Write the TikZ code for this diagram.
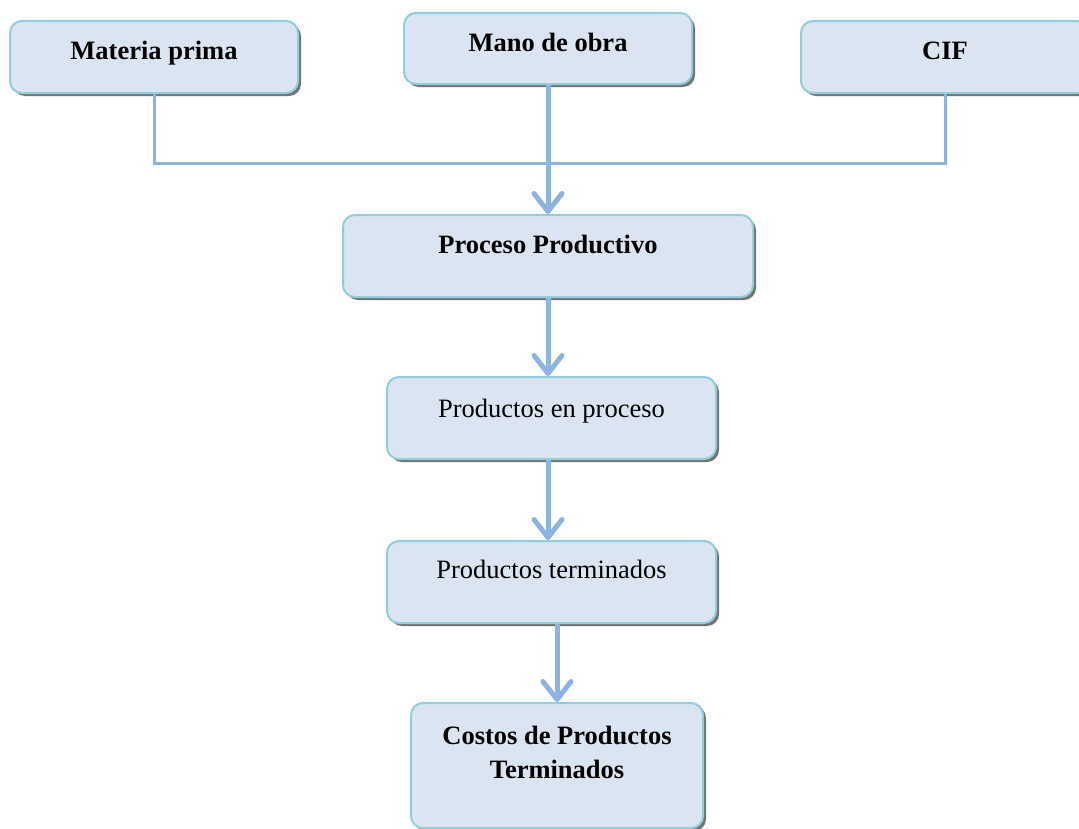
\documentclass[tikz,border=0pt]{standalone}
\usepackage{fontspec}
\setmainfont{Liberation Serif}
\usetikzlibrary{arrows.meta,shadows}
\definecolor{fondo}{HTML}{DBE5F1}
\definecolor{borde}{HTML}{92CDDC}
\definecolor{flecha}{HTML}{8DB3E2}

\begin{document}
\begin{tikzpicture}[x=1pt, y=-1pt,
    caja/.style={draw=borde, fill=fondo, line width=2pt, rounded corners=12pt,
      anchor=north, inner xsep=0pt, inner ysep=0pt, align=center,
      font=\fontsize{26.5}{34}\selectfont,
      drop shadow={shadow xshift=3pt, shadow yshift=-3pt, fill=black!55, opacity=1}},
    negrita/.style={font=\fontsize{26.5}{34}\selectfont\bfseries},
    linea/.style={draw=flecha, line width=3pt},
    flechagruesa/.style={draw=flecha, line width=5pt,
      -{Straight Barb[length=18pt, width=28pt, round]}}]
  \useasboundingbox (0,0) rectangle (1079,828);

  \node [caja, negrita, minimum width=288pt, text height=38pt, text depth=34pt]
    (mp) at (154,20) {Materia prima};
  \node [caja, negrita, minimum width=288pt, text height=38pt, text depth=33pt]
    (mo) at (548,12) {Mano de obra};
  \node [caja, negrita, minimum width=288pt, text height=38pt, text depth=34pt]
    (cif) at (945,20) {CIF};

  \node [caja, negrita, minimum width=410pt, text height=38pt, text depth=44pt]
    (pp) at (548,214) {Proceso Productivo};
  \node [caja, minimum width=329pt, text height=40pt, text depth=42pt]
    (pep) at (551.5,376) {Productos en proceso};
  \node [caja, minimum width=329pt, text height=37pt, text depth=45pt]
    (pt) at (551.5,540) {Productos terminados};
  \node [caja, negrita, minimum width=292pt, text height=75pt, text depth=50pt]
    (cpt) at (557,702) {Costos de Productos\\Terminados};

  \coordinate (union) at (548,163);
  \draw [linea] (mp.south) |- (union) -| (cif.south);
  \draw [flechagruesa] (mo.south) -- (pp.north);
  \draw [flechagruesa] (pp.south) -- (pp.south |- pep.north);
  \draw [flechagruesa] (pp.south |- pep.south) -- (pp.south |- pt.north);
  \draw [flechagruesa] (pt.south -| cpt.north) -- (cpt.north);
\end{tikzpicture}
\end{document}
